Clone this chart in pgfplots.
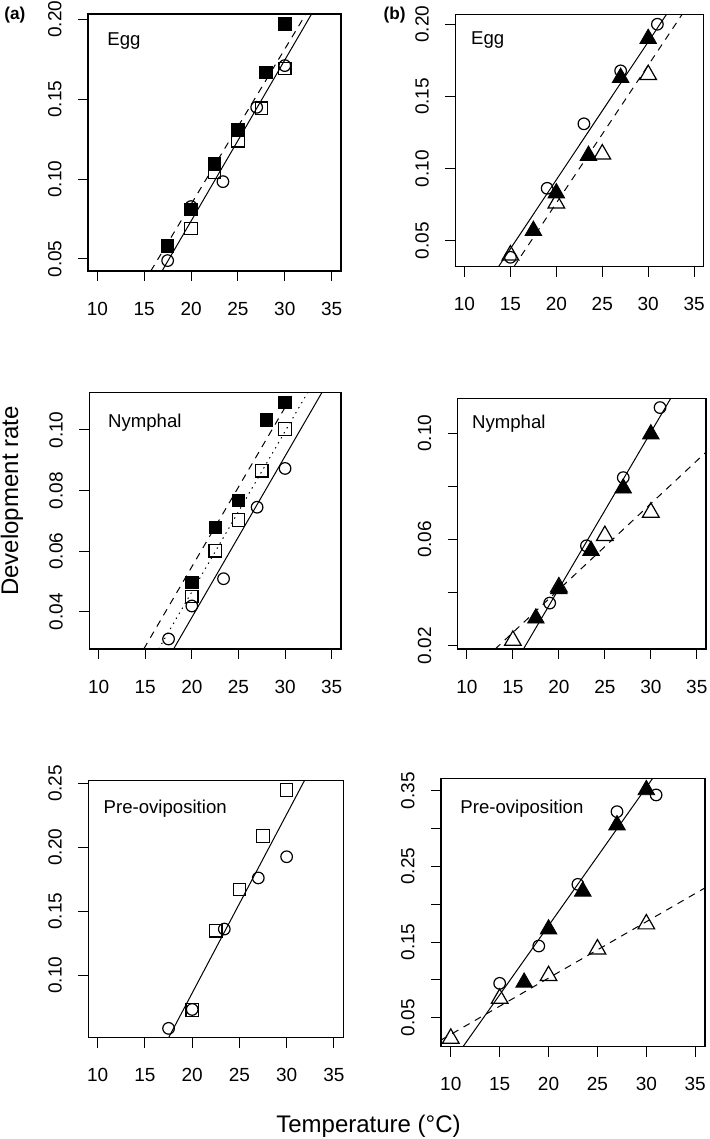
\documentclass[border=0pt]{standalone}
\usepackage{fontspec}
\setmainfont{Liberation Sans}
\usepackage{pgfplots}
\pgfplotsset{compat=1.18}
\pgfplotsset{
  panel/.style={
    scale only axis, anchor=south west, xmin=9, xmax=36,
    axis line style={line width=0.6pt},
    tick pos=left, tick align=outside, major tick length=5pt,
    tick style={line width=0.5pt, black},
    xtick={10,15,20,25,30,35}, xticklabels={10,15,20,25,30,35},
    tick label style={font=\fontsize{9.5}{11}\selectfont, inner sep=0pt},
    yticklabel style={rotate=90, anchor=south},
    xticklabel style={anchor=north},
    xticklabel shift=10.3pt,
    yticklabel shift=8pt,
    clip=true,
  },
  osq/.style={only marks, mark=square, mark size=3.1pt, mark options={line width=0.6pt, draw=black, solid}},
  fsq/.style={only marks, mark=square*, mark size=3.1pt, mark options={draw=black, fill=black, solid}},
  ocirc/.style={only marks, mark=o, mark size=2.9pt, mark options={line width=0.6pt, draw=black, solid}},
  otri/.style={only marks, mark=triangle, mark size=4.8pt, mark options={line width=0.6pt, draw=black, solid}},
  ftri/.style={only marks, mark=triangle*, mark size=4.8pt, mark options={draw=black, fill=black, solid}},
  fit/.style={no marks, line width=0.5pt, black},
  dsh/.style={dash pattern=on 3.5pt off 3pt},
  dtt/.style={dash pattern=on 0.7pt off 2.2pt},
}
\begin{document}
\begin{tikzpicture}
\useasboundingbox (0,0) rectangle (354.5pt,569.5pt);

% ---------- (a) Egg ----------
\begin{axis}[panel, at={(44pt,434pt)}, width=126.5pt, height=128.5pt,
  ymin=0.0425, ymax=0.2033, ytick={0.05,0.10,0.15,0.20}, yticklabels={0.05,0.10,0.15,0.20}]
\addplot[fit, dsh] coordinates {(15.7,0.0425) (32.26,0.2033)};
\addplot[fit] coordinates {(16.9,0.0425) (32.86,0.2033)};
\addplot[osq] coordinates {(20,0.0692) (22.5,0.104) (25,0.124) (27.5,0.1443) (30,0.1693)};
\addplot[ocirc] coordinates {(17.5,0.049) (20,0.0828) (23.4,0.0984) (27,0.1449) (30,0.171)};
\addplot[fsq] coordinates {(17.5,0.0581) (20,0.0811) (22.5,0.1095) (25,0.1307) (28,0.1666) (30,0.197)};
\end{axis}

% ---------- (b) Egg ----------
\begin{axis}[panel, at={(227.65pt,436.15pt)}, width=124pt, height=126.2pt,
  ymin=0.032, ymax=0.2069, ytick={0.05,0.10,0.15,0.20}, yticklabels={0.05,0.10,0.15,0.20}]
\addplot[fit] coordinates {(13.7,0.032) (32.0,0.2069)};
\addplot[fit, dsh] coordinates {(15.38,0.032) (33.7,0.2069)};
\addplot[ocirc] coordinates {(15,0.0385) (19,0.0863) (23,0.131) (27,0.1677) (31,0.200)};
\addplot[otri] coordinates {(15,0.040) (20,0.076) (25,0.110) (30,0.165)};
\addplot[ftri] coordinates {(17.5,0.057) (20,0.083) (23.5,0.109) (27,0.163) (30,0.190)};
\end{axis}

% ---------- (a) Nymphal ----------
\begin{axis}[panel, at={(44.65pt,245pt)}, width=125.85pt, height=128.15pt,
  ymin=0.0277, ymax=0.1123, ytick={0.04,0.06,0.08,0.10}, yticklabels={0.04,0.06,0.08,0.10}]
\addplot[fit, dsh] coordinates {(14.84,0.0277) (30.92,0.1123)};
\addplot[fit, dtt] coordinates {(16.44,0.0277) (32.41,0.1123)};
\addplot[fit] coordinates {(18.04,0.0277) (33.94,0.1123)};
\addplot[osq] coordinates {(20,0.045) (22.5,0.0601) (25,0.0703) (27.5,0.0865) (30,0.1003)};
\addplot[ocirc] coordinates {(17.5,0.031) (20,0.0419) (23.4,0.0509) (27,0.0745) (30,0.0873)};
\addplot[fsq] coordinates {(20,0.0497) (22.5,0.0679) (25,0.0767) (28,0.1033) (30,0.109)};
\end{axis}

% ---------- (b) Nymphal ----------
\begin{axis}[panel, at={(228.85pt,245pt)}, width=124.15pt, height=125.35pt,
  ymin=0.0187, ymax=0.1132, ytick={0.02,0.04,0.06,0.08,0.10}, yticklabels={0.02,,0.06,,0.10}]
\addplot[fit] coordinates {(16.15,0.0187) (32.17,0.1132)};
\addplot[fit, dsh] coordinates {(13.08,0.0187) (36,0.0929)};
\addplot[ocirc] coordinates {(19,0.036) (23,0.0576) (27,0.0833) (31,0.1097)};
\addplot[otri] coordinates {(15,0.0219) (20,0.042) (25,0.0614) (30,0.0702)};
\addplot[ftri] coordinates {(17.5,0.0303) (20,0.0413) (23.5,0.0558) (27,0.0793) (30,0.0997)};
\end{axis}

% ---------- (a) Pre-oviposition ----------
\begin{axis}[panel, at={(44.15pt,50.65pt)}, width=127.5pt, height=128.5pt,
  ymin=0.051, ymax=0.2521, ytick={0.10,0.15,0.20,0.25}, yticklabels={0.10,0.15,0.20,0.25}]
\addplot[fit] coordinates {(17.5,0.051) (31.88,0.2521)};
\addplot[osq] coordinates {(20,0.0726) (22.5,0.1347) (25,0.167) (27.5,0.2088) (30,0.2448)};
\addplot[ocirc] coordinates {(17.5,0.0583) (20,0.0731) (23.4,0.136) (27,0.176) (30,0.1926)};
\end{axis}

% ---------- (b) Pre-oviposition ----------
\begin{axis}[panel, at={(220.5pt,46.15pt)}, width=132pt, height=134.2pt,
  ymin=0.0117, ymax=0.3663, ytick={0.05,0.10,0.15,0.20,0.25,0.30,0.35}, yticklabels={0.05,,0.15,,0.25,,0.35}]
\addplot[fit] coordinates {(11.25,0.0117) (30.65,0.3663)};
\addplot[fit, dsh] coordinates {(9,0.0205) (36,0.2215)};
\addplot[ocirc] coordinates {(15,0.0954) (19,0.1447) (23,0.2262) (27,0.3222) (31,0.3443)};
\addplot[otri] coordinates {(10,0.0226) (15,0.0754) (20,0.1054) (25,0.1406) (30,0.1737)};
\addplot[ftri] coordinates {(17.5,0.0966) (20,0.167) (23.5,0.217) (27,0.3045) (30,0.351)};
\end{axis}

% ---------- texts ----------
\begin{scope}[every node/.style={inner sep=0pt}]
\node[anchor=base west, font=\fontsize{9.3}{11}\selectfont] at (53.5pt,546.5pt) {Egg};
\node[anchor=base west, font=\fontsize{9.3}{11}\selectfont] at (235.35pt,547pt) {Egg};
\node[anchor=base west, font=\fontsize{9.3}{11}\selectfont] at (53.85pt,355.85pt) {Nymphal};
\node[anchor=base west, font=\fontsize{9.3}{11}\selectfont] at (235.85pt,355.35pt) {Nymphal};
\node[anchor=base west, font=\fontsize{9.3}{11}\selectfont] at (51.65pt,162.85pt) {Pre-oviposition};
\node[anchor=base west, font=\fontsize{9.3}{11}\selectfont] at (230pt,162.5pt) {Pre-oviposition};
\node[anchor=base west, font=\bfseries\fontsize{8.6}{10}\selectfont] at (2pt,559.75pt) {(a)};
\node[anchor=base west, font=\bfseries\fontsize{8.6}{10}\selectfont] at (191.65pt,559.75pt) {(b)};
\node[rotate=90, anchor=center, font=\fontsize{12}{14}\selectfont] at (6pt,319pt) {Development rate};
\node[anchor=base, font=\fontsize{12}{14}\selectfont] at (184.25pt,3.15pt) {Temperature (°C)};
\end{scope}
\end{tikzpicture}
\end{document}
